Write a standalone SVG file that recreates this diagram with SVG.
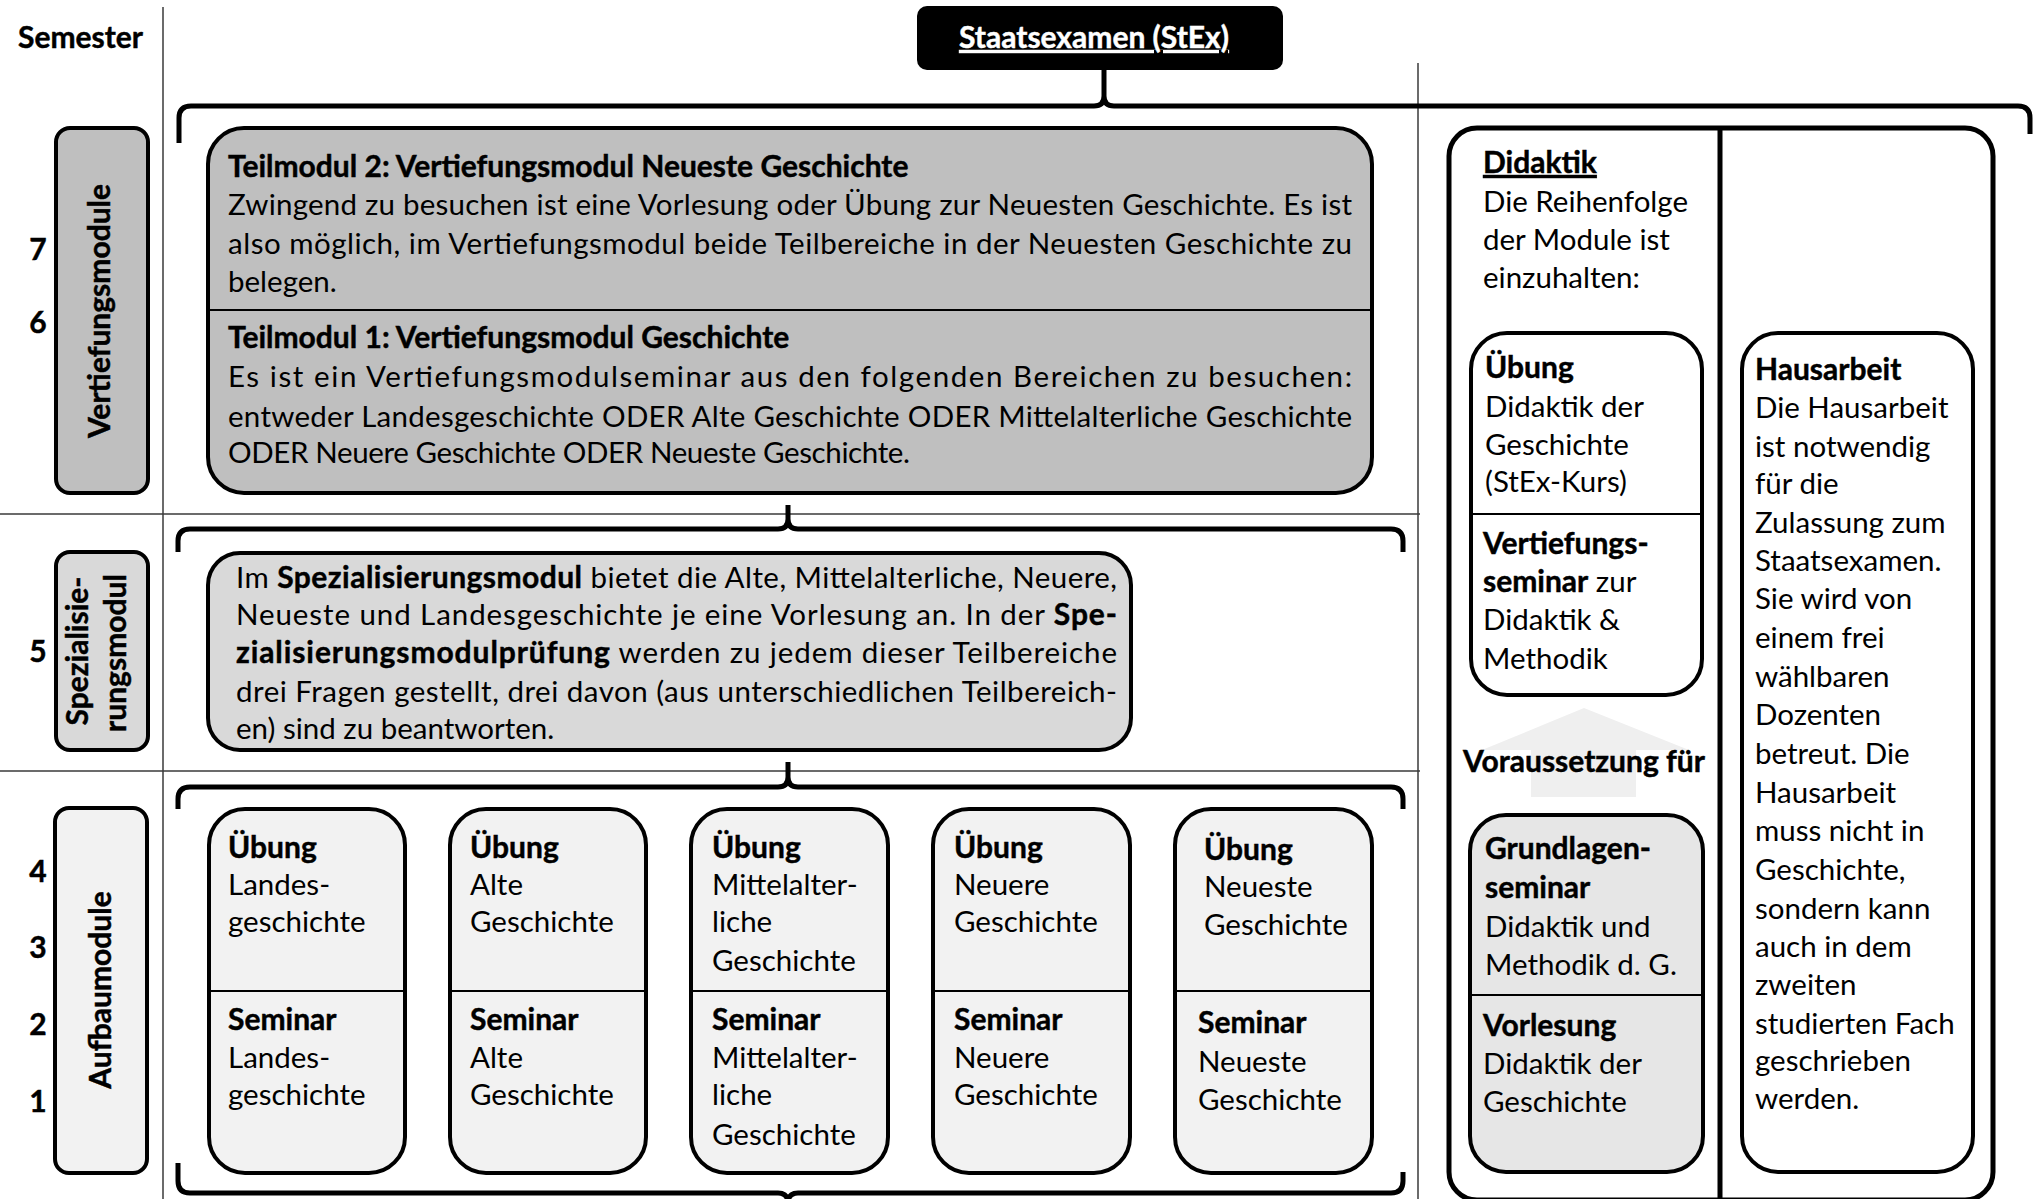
<svg xmlns="http://www.w3.org/2000/svg" width="2034" height="1199" viewBox="0 0 2034 1199">
<style>
.t{font-family:Lato,"Open Sans","Liberation Sans",sans-serif;font-size:29.5px;fill:#000}
.b{font-weight:bold;font-size:30px;stroke:#000;stroke-width:0.45px}
.u{text-decoration:underline}
.box{stroke:#000;stroke-width:4}
.grid{stroke:#3a3a3a;stroke-width:1.5;fill:none}
.br{fill:none;stroke:#000;stroke-width:5;stroke-linejoin:round;stroke-linecap:butt}
.dv{stroke:#000;stroke-width:2}
</style>
<rect width="2034" height="1199" fill="#fff"/>

<g id="grid">
<line class="grid" x1="163" y1="7" x2="163" y2="1199"/>
<line class="grid" x1="1418" y1="63" x2="1418" y2="1199"/>
<line class="grid" x1="0" y1="514" x2="1420" y2="514"/>
<line class="grid" x1="0" y1="771" x2="1420" y2="771"/>
</g>

<g id="semesters" class="t b">
<text x="18" y="48">Semester</text>
<text x="38" y="260" text-anchor="middle">7</text>
<text x="38" y="333" text-anchor="middle">6</text>
<text x="38" y="662" text-anchor="middle">5</text>
<text x="38" y="882" text-anchor="middle">4</text>
<text x="38" y="958" text-anchor="middle">3</text>
<text x="38" y="1035" text-anchor="middle">2</text>
<text x="38" y="1112" text-anchor="middle">1</text>
</g>

<g id="connectors">
<path class="br" d="M179,143 V118 Q179,106 191,106 H1094 Q1104,106 1104,96 V70 M1104,96 Q1104,106 1114,106 H2018 Q2030,106 2030,118 V134"/>
<path class="br" d="M178,552 V541 Q178,529 190,529 H778 Q788,529 788,519 V505 M788,519 Q788,529 798,529 H1391 Q1403,529 1403,541 V552"/>
<path class="br" d="M178,809 V799 Q178,787 190,787 H778 Q788,787 788,777 V762 M788,777 Q788,787 798,787 H1391 Q1403,787 1403,799 V809"/>
<path class="br" d="M178,1163 V1181 Q178,1193 190,1193 H778 Q788,1193 788,1203 M788,1203 Q788,1193 798,1193 H1391 Q1403,1193 1403,1181 V1172"/>
</g>

<g id="stex">
<rect x="917" y="6" width="366" height="64" rx="10" fill="#000"/>
<text class="t b u" x="1094" y="48" text-anchor="middle" style="fill:#fff;stroke:#fff">Staatsexamen (StEx)</text>
</g>

<g id="label-vertiefung">
<rect class="box" x="56" y="128" width="92" height="365" rx="14" fill="#bfbfbf"/>
<text class="t b" transform="translate(110,311) rotate(-90)" text-anchor="middle">Vertiefungsmodule</text>
</g>
<g id="label-spezialisierung">
<rect class="box" x="56" y="552" width="92" height="198" rx="14" fill="#d9d9d9"/>
<text class="t b" transform="translate(88,651) rotate(-90)" text-anchor="middle">Spezialisie-</text>
<text class="t b" transform="translate(126,653) rotate(-90)" text-anchor="middle">rungsmodul</text>
</g>
<g id="label-aufbau">
<rect class="box" x="55" y="808" width="92" height="365" rx="14" fill="#f2f2f2"/>
<text class="t b" transform="translate(111,990) rotate(-90)" text-anchor="middle">Aufbaumodule</text>
</g>

<g id="vertiefungsmodul">
<rect class="box" x="208" y="128" width="1164" height="365" rx="36" fill="#bfbfbf"/>
<line class="dv" x1="208" y1="310" x2="1372" y2="310"/>
<text class="t b" x="228" y="177">Teilmodul 2: Vertiefungsmodul Neueste Geschichte</text>
<text class="t" x="228" y="215" textLength="1124" lengthAdjust="spacing">Zwingend zu besuchen ist eine Vorlesung oder Übung zur Neuesten Geschichte. Es ist</text>
<text class="t" x="228" y="254" textLength="1124" lengthAdjust="spacing">also möglich, im Vertiefungsmodul beide Teilbereiche in der Neuesten Geschichte zu</text>
<text class="t" x="228" y="292">belegen.</text>
<text class="t b" x="228" y="348">Teilmodul 1: Vertiefungsmodul Geschichte</text>
<text class="t" x="228" y="387" textLength="1124" lengthAdjust="spacing">Es ist ein Vertiefungsmodulseminar aus den folgenden Bereichen zu besuchen:</text>
<text class="t" x="228" y="427" textLength="1124" lengthAdjust="spacing">entweder Landesgeschichte ODER Alte Geschichte ODER Mittelalterliche Geschichte</text>
<text class="t" x="228" y="463" textLength="682" lengthAdjust="spacing">ODER Neuere Geschichte ODER Neueste Geschichte.</text>
</g>

<g id="spezialisierungsmodul">
<rect class="box" x="208" y="553" width="923" height="197" rx="32" fill="#d9d9d9"/>
<text class="t" x="236" y="588" textLength="881" lengthAdjust="spacing">Im <tspan class="b">Spezialisierungsmodul</tspan> bietet die Alte, Mittelalterliche, Neuere,</text>
<text class="t" x="236" y="625" textLength="881" lengthAdjust="spacing">Neueste und Landesgeschichte je eine Vorlesung an. In der <tspan class="b">Spe-</tspan></text>
<text class="t" x="236" y="663" textLength="881" lengthAdjust="spacing"><tspan class="b">zialisierungsmodulprüfung</tspan> werden zu jedem dieser Teilbereiche</text>
<text class="t" x="236" y="702" textLength="881" lengthAdjust="spacing">drei Fragen gestellt, drei davon (aus unterschiedlichen Teilbereich-</text>
<text class="t" x="236" y="739">en) sind zu beantworten.</text>
</g>

<g id="aufbau-landes">
<rect class="box" x="209" y="809" width="196" height="364" rx="36" fill="#f2f2f2"/>
<line class="dv" x1="209" y1="991" x2="405" y2="991"/>
<text class="t b" x="228" y="858">Übung</text>
<text class="t" x="228" y="895">Landes-</text>
<text class="t" x="228" y="932">geschichte</text>
<text class="t b" x="228" y="1030">Seminar</text>
<text class="t" x="228" y="1068">Landes-</text>
<text class="t" x="228" y="1105">geschichte</text>
</g>
<g id="aufbau-alte">
<rect class="box" x="450" y="809" width="196" height="364" rx="36" fill="#f2f2f2"/>
<line class="dv" x1="450" y1="991" x2="646" y2="991"/>
<text class="t b" x="470" y="858">Übung</text>
<text class="t" x="470" y="895">Alte</text>
<text class="t" x="470" y="932">Geschichte</text>
<text class="t b" x="470" y="1030">Seminar</text>
<text class="t" x="470" y="1068">Alte</text>
<text class="t" x="470" y="1105">Geschichte</text>
</g>
<g id="aufbau-mittelalter">
<rect class="box" x="691" y="809" width="197" height="364" rx="36" fill="#f2f2f2"/>
<line class="dv" x1="691" y1="991" x2="888" y2="991"/>
<text class="t b" x="712" y="858">Übung</text>
<text class="t" x="712" y="895">Mittelalter-</text>
<text class="t" x="712" y="932">liche</text>
<text class="t" x="712" y="971">Geschichte</text>
<text class="t b" x="712" y="1030">Seminar</text>
<text class="t" x="712" y="1068">Mittelalter-</text>
<text class="t" x="712" y="1105">liche</text>
<text class="t" x="712" y="1145">Geschichte</text>
</g>
<g id="aufbau-neuere">
<rect class="box" x="933" y="809" width="197" height="364" rx="36" fill="#f2f2f2"/>
<line class="dv" x1="933" y1="991" x2="1130" y2="991"/>
<text class="t b" x="954" y="858">Übung</text>
<text class="t" x="954" y="895">Neuere</text>
<text class="t" x="954" y="932">Geschichte</text>
<text class="t b" x="954" y="1030">Seminar</text>
<text class="t" x="954" y="1068">Neuere</text>
<text class="t" x="954" y="1105">Geschichte</text>
</g>
<g id="aufbau-neueste">
<rect class="box" x="1175" y="809" width="197" height="364" rx="36" fill="#f2f2f2"/>
<line class="dv" x1="1175" y1="991" x2="1372" y2="991"/>
<text class="t b" x="1204" y="860">Übung</text>
<text class="t" x="1204" y="897">Neueste</text>
<text class="t" x="1204" y="935">Geschichte</text>
<text class="t b" x="1198" y="1033">Seminar</text>
<text class="t" x="1198" y="1072">Neueste</text>
<text class="t" x="1198" y="1110">Geschichte</text>
</g>

<g id="didaktik">
<rect x="1449" y="128" width="544" height="1072" rx="28" fill="#fff" stroke="#000" stroke-width="5"/>
<line x1="1720" y1="128" x2="1720" y2="1199" stroke="#000" stroke-width="5"/>
<text class="t b u" x="1483" y="173">Didaktik</text>
<text class="t" x="1483" y="212">Die Reihenfolge</text>
<text class="t" x="1483" y="250">der Module ist</text>
<text class="t" x="1483" y="288">einzuhalten:</text>
</g>

<g id="didaktik-uebung">
<rect class="box" x="1471" y="333" width="231" height="362" rx="36" fill="#fff"/>
<line class="dv" x1="1471" y1="514" x2="1702" y2="514"/>
<text class="t b" x="1485" y="378">Übung</text>
<text class="t" x="1485" y="417">Didaktik der</text>
<text class="t" x="1485" y="455">Geschichte</text>
<text class="t" x="1485" y="492">(StEx-Kurs)</text>
<text class="t b" x="1483" y="554">Vertiefungs-</text>
<text class="t" x="1483" y="592"><tspan class="b">seminar</tspan> zur</text>
<text class="t" x="1483" y="630">Didaktik &amp;</text>
<text class="t" x="1483" y="669">Methodik</text>
</g>

<g id="voraussetzung">
<polygon points="1584,708 1689,750 1636,750 1636,797 1531,797 1531,750 1482,750" fill="#efefef"/>
<text class="t b" x="1584" y="772" text-anchor="middle">Voraussetzung für</text>
</g>

<g id="didaktik-grundlagen">
<rect class="box" x="1470" y="815" width="233" height="357" rx="36" fill="#e6e6e6"/>
<line class="dv" x1="1470" y1="995" x2="1703" y2="995"/>
<text class="t b" x="1485" y="859">Grundlagen-</text>
<text class="t b" x="1485" y="898">seminar</text>
<text class="t" x="1485" y="937">Didaktik und</text>
<text class="t" x="1485" y="975">Methodik d. G.</text>
<text class="t b" x="1483" y="1036">Vorlesung</text>
<text class="t" x="1483" y="1074">Didaktik der</text>
<text class="t" x="1483" y="1112">Geschichte</text>
</g>

<g id="hausarbeit">
<rect class="box" x="1742" y="333" width="231" height="839" rx="36" fill="#fff"/>
<text class="t b" x="1755" y="380">Hausarbeit</text>
<text class="t" x="1755" y="418">Die Hausarbeit</text>
<text class="t" x="1755" y="457">ist notwendig</text>
<text class="t" x="1755" y="494">für die</text>
<text class="t" x="1755" y="533">Zulassung zum</text>
<text class="t" x="1755" y="571">Staatsexamen.</text>
<text class="t" x="1755" y="609">Sie wird von</text>
<text class="t" x="1755" y="648">einem frei</text>
<text class="t" x="1755" y="687">wählbaren</text>
<text class="t" x="1755" y="725">Dozenten</text>
<text class="t" x="1755" y="764">betreut. Die</text>
<text class="t" x="1755" y="803">Hausarbeit</text>
<text class="t" x="1755" y="841">muss nicht in</text>
<text class="t" x="1755" y="880">Geschichte,</text>
<text class="t" x="1755" y="919">sondern kann</text>
<text class="t" x="1755" y="957">auch in dem</text>
<text class="t" x="1755" y="995">zweiten</text>
<text class="t" x="1755" y="1034">studierten Fach</text>
<text class="t" x="1755" y="1071">geschrieben</text>
<text class="t" x="1755" y="1109">werden.</text>
</g>
</svg>
